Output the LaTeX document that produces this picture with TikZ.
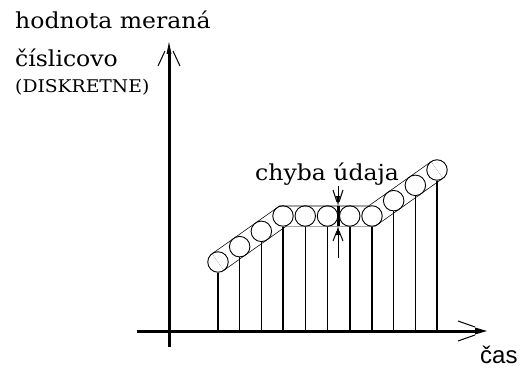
\documentclass[tikz,border=0pt]{standalone}
\usepackage{fontspec}
\newfontfamily\reffont[FakeStretch=1.07]{DejaVu Serif}
\newfontfamily\casfont{Liberation Sans}
\usetikzlibrary{calc}
\begin{document}
\begin{tikzpicture}[x=1pt,y=-1pt,
  axisline/.style={line width=3pt},
  stemline/.style={line width=1.5pt},
  barbline/.style={line width=1pt},
  tube/.style={double distance=19.5pt, line width=0.7pt, line join=miter},
  sample/.style={circle, draw, line width=0.9pt, minimum size=20.5pt, inner sep=0pt},
  lbl/.style={anchor=base west, inner sep=0pt, font=\reffont\fontsize{22}{26}\selectfont},
  lblsmall/.style={anchor=base west, inner sep=0pt, font=\reffont\fontsize{17.5}{21}\selectfont}]
\useasboundingbox (0,0) rectangle (520,369);

% labels
\node[lbl] (tval) at (15,29) {hodnota meraná};
\node[lbl] (tcis) at (15,67) {číslicovo};
\node[lblsmall] (tdis) at (15,93) {(DISKRETNE)};
\node[lbl] (terr) at (255,180) {chyba údaja};
\node[anchor=base west, inner sep=0pt, font=\casfont\fontsize{24}{28}\selectfont] (tcas) at (480,363) {čas};

% axes
\coordinate (yb) at (169,347);
\coordinate (yt) at (169,42);
\draw[axisline] (yb) -- (169,53);
\fill (166.5,54) -- (yt) -- (171.5,54) -- cycle;
\draw[barbline] (158,66) -- (165,51);
\draw[barbline] (180,66) -- (173,51);

\coordinate (xl) at (137,331);
\coordinate (xr) at (487,331);
\draw[axisline] (xl) -- (476,331);
\fill (475,327.5) -- (xr) -- (475,334.5) -- cycle;
\draw[barbline] (458,321) -- (475,327);
\draw[barbline] (458,341) -- (475,335);

% path of samples
\coordinate (p1) at (218,262);
\coordinate (p4) at (283,216);
\coordinate (p8) at (372,216);
\coordinate (p11) at (437,170);
\draw[tube] (p1) -- (p4) -- (p8) -- (p11);

\node[sample] (s1) at (p1) {};
\node[sample] (s2) at ($(p1)!1/3!(p4)$) {};
\node[sample] (s3) at ($(p1)!2/3!(p4)$) {};
\node[sample] (s4) at (p4) {};
\node[sample] (s5) at ($(p4)!1/4!(p8)$) {};
\node[sample] (s6) at ($(p4)!2/4!(p8)$) {};
\node[sample] (s7) at ($(p4)!3/4!(p8)$) {};
\node[sample] (s8) at (p8) {};
\node[sample] (s9) at ($(p8)!1/3!(p11)$) {};
\node[sample] (s10) at ($(p8)!2/3!(p11)$) {};
\node[sample] (s11) at (p11) {};

\foreach \i in {1,...,11}{
  \draw[stemline] (s\i.south) -- (s\i.south |- xl);
}

% error marker
\coordinate (eTop) at (338,186);
\coordinate (eMid1) at (338,206);
\coordinate (eMid2) at (338,226);
\coordinate (eBot) at (338,258);
\draw[barbline] (eTop) -- (338,197);
\fill (336,196) -- (eMid1) -- (340,196) -- cycle;
\draw[line width=3pt] (eMid1) -- (eMid2);
\draw[barbline] (333,190) -- (337,202);
\draw[barbline] (343,190) -- (339,202);
\fill (336,235) -- (eMid2) -- (340,235) -- cycle;
\draw[barbline] (338,233) -- (eBot);
\draw[barbline] (333,241) -- (337,231);
\draw[barbline] (343,241) -- (339,231);
\end{tikzpicture}
\end{document}
